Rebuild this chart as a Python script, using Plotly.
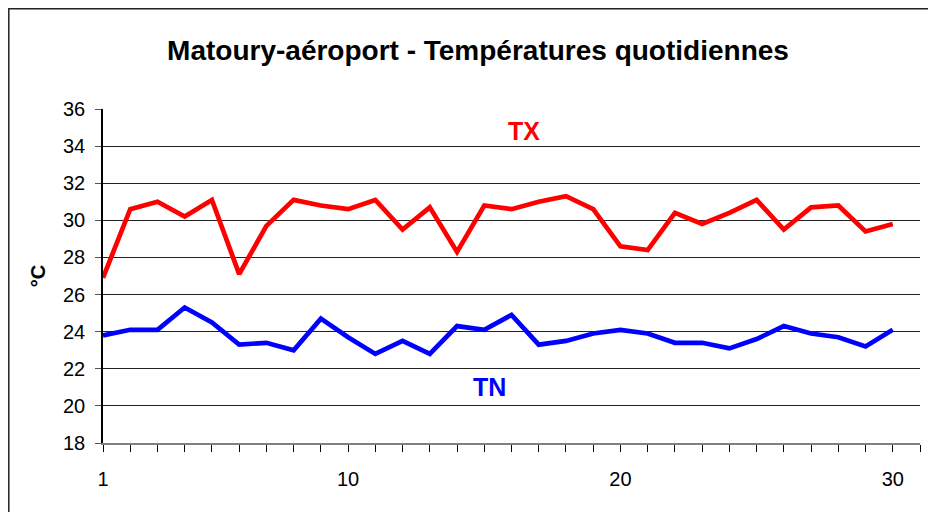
import plotly.graph_objects as go

days = list(range(1, 31))
tx = [26.9, 30.6, 31.0, 30.2, 31.1, 27.1, 29.7, 31.1, 30.8, 30.6,
      31.1, 29.5, 30.7, 28.3, 30.8, 30.6, 31.0, 31.3, 30.6, 28.6,
      28.4, 30.4, 29.8, 30.4, 31.1, 29.5, 30.7, 30.8, 29.4, 29.8]
tn = [23.8, 24.1, 24.1, 25.3, 24.5, 23.3, 23.4, 23.0, 24.7, 23.7,
      22.8, 23.5, 22.8, 24.3, 24.1, 24.9, 23.3, 23.5, 23.9, 24.1,
      23.9, 23.4, 23.4, 23.1, 23.6, 24.3, 23.9, 23.7, 23.2, 24.1]
x_tickvals = list(range(1, 32))
x_ticktext = [str(d) if d in (1, 10, 20, 30) else "" for d in x_tickvals]
y_ticks = list(range(18, 37, 2))

# page has an 8px body margin, so the figure is sized to fit the 936x512 window
W, H = 928, 504
ml, mr, mt, mb = 95, 16, 101, 69
FONT = "Liberation Sans, Arial"

fig = go.Figure()
fig.add_trace(go.Scatter(x=days, y=tx, mode="lines", name="TX",
                         line=dict(color="#FF0000", width=4.7)))
fig.add_trace(go.Scatter(x=days, y=tn, mode="lines", name="TN",
                         line=dict(color="#0000FF", width=4.7)))

fig.add_annotation(x=16.45, y=34.8, text="<b>TX</b>", showarrow=False,
                   font=dict(color="#FF0000", size=25, family=FONT))
fig.add_annotation(x=15.2, y=21.0, text="<b>TN</b>", showarrow=False,
                   font=dict(color="#0000FF", size=25, family=FONT))

pw = W - ml - mr
ph = H - mt - mb
fig.add_shape(type="rect", xref="paper", yref="paper",
              x0=(0.8 - ml) / pw, x1=(W + 20 - ml) / pw,
              y0=-(mb + 20) / ph, y1=(H - mb - 0.8) / ph,
              line=dict(color="#222222", width=1.5), fillcolor="rgba(0,0,0,0)",
              layer="below")

fig.update_layout(
    width=W, height=H,
    margin=dict(l=ml, r=mr, t=mt, b=mb),
    paper_bgcolor="white", plot_bgcolor="white",
    showlegend=False,
    font=dict(family=FONT, color="black", size=20),
    title=dict(text="<b>Matoury-aéroport - Températures quotidiennes</b>",
               x=470 / W, xanchor="center", y=1 - 42 / H, yanchor="middle",
               font=dict(size=28, family=FONT, color="black")),
    xaxis=dict(range=[1, 31], tickmode="array", tickvals=x_tickvals, ticktext=x_ticktext,
               showgrid=False, zeroline=False,
               showline=True, linecolor="#808080", linewidth=2,
               ticks="outside", ticklen=7, tickwidth=1.2, tickcolor="black",
               ticklabelstandoff=10, tickfont=dict(size=20)),
    yaxis=dict(range=[18, 36], tickmode="array", tickvals=y_ticks,
               showgrid=True, gridcolor="#222222", gridwidth=1.3, zeroline=False,
               showline=True, linecolor="black", linewidth=1.5,
               ticks="outside", ticklen=6, tickwidth=1.3, tickcolor="#555555",
               ticklabelstandoff=6, tickfont=dict(size=20),
               title=dict(text="<b>°C</b>", font=dict(size=20), standoff=12)),
)

fig.write_html("out.html")
